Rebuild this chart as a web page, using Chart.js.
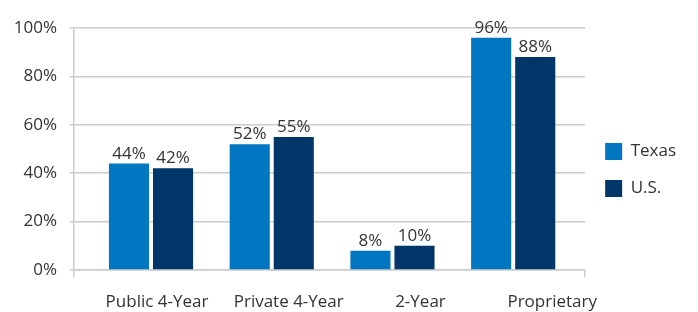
<!DOCTYPE html>
<html lang="en">
<head>
    <meta charset="UTF-8">
    <title>Texas vs U.S.</title>
    <script src="https://cdn.jsdelivr.net/npm/chart.js"></script>
    <style>
        html, body { margin: 0; padding: 0; background: #fff; }
        #wrap { width: 698px; height: 312px; }
    </style>
</head>
<body>
    <div id="wrap"><canvas id="myChart"></canvas></div>
    <script>
        // data
        var categories = ['Public 4-Year', 'Private 4-Year', '2-Year', 'Proprietary'];
        var texas = [44, 52, 8, 96];
        var us = [42, 55, 10, 88];
        var yTicks = [0, 20, 40, 60, 80, 100];

        var textColor = '#333333';
        var gridColor = '#cccccc';
        var font = { family: '"Open Sans", sans-serif', size: 17 };

        function points(values) {
            return values.map(function(v, i) { return { x: i, y: v }; });
        }

        // percent labels on top of the bars
        var valueLabels = {
            id: 'valueLabels',
            afterDatasetsDraw: function(chart) {
                var ctx = chart.ctx;
                ctx.save();
                ctx.font = '17px "Open Sans", sans-serif';
                ctx.fillStyle = textColor;
                ctx.textAlign = 'center';
                ctx.textBaseline = 'alphabetic';
                chart.data.datasets.forEach(function(ds, i) {
                    chart.getDatasetMeta(i).data.forEach(function(bar, j) {
                        ctx.fillText(ds.data[j].y + '%', bar.x, bar.y - 5);
                    });
                });
                ctx.restore();
            }
        };

        var ctx = document.getElementById('myChart').getContext('2d');
        var myChart = new Chart(ctx, {
            type: 'bar',
            data: {
                datasets: [{
                    label: 'Texas',
                    data: points(texas),
                    backgroundColor: '#0077c0',
                    categoryPercentage: 0.73,
                    barPercentage: 0.91
                }, {
                    label: 'U.S.',
                    data: points(us),
                    backgroundColor: '#003768',
                    categoryPercentage: 0.73,
                    barPercentage: 0.91
                }]
            },
            options: {
                responsive: true,
                maintainAspectRatio: false,
                animation: false,
                layout: { padding: { top: 28, right: 12, bottom: 0, left: 0 } },
                plugins: {
                    tooltip: { enabled: false },
                    legend: {
                        position: 'right',
                        labels: {
                            boxWidth: 17,
                            boxHeight: 17,
                            padding: 20,
                            color: textColor,
                            font: font
                        }
                    }
                },
                scales: {
                    x: {
                        type: 'linear',
                        position: 'bottom',
                        offset: false,
                        min: -0.638,
                        max: 3.596,
                        afterBuildTicks: function(axis) {
                            axis.ticks = [{ value: axis.min }, { value: axis.max }];
                        },
                        afterFit: function(axis) { axis.height = 7; },
                        grid: { offset: false, drawOnChartArea: false, tickLength: 7, color: gridColor, lineWidth: 1.5 },
                        border: { color: gridColor, width: 1.5 },
                        ticks: { display: false }
                    },
                    xl: {
                        type: 'linear',
                        position: 'bottom',
                        offset: false,
                        weight: 1,
                        min: -0.63,
                        max: 3.25,
                        afterBuildTicks: function(axis) {
                            axis.ticks = categories.map(function(c, i) { return { value: i }; });
                        },
                        afterFit: function(axis) { axis.height = 35; },
                        grid: { display: false, offset: false },
                        border: { display: false },
                        ticks: {
                            autoSkip: false,
                            maxRotation: 0,
                            padding: 7,
                            color: textColor,
                            font: font,
                            callback: function(v) { return categories[v]; }
                        }
                    },
                    y: {
                        min: 0,
                        max: 100,
                        afterBuildTicks: function(axis) {
                            axis.ticks = yTicks.map(function(v) { return { value: v }; });
                        },
                        afterFit: function(axis) { axis.width = 74; },
                        grid: { color: gridColor, tickLength: 4, lineWidth: 1.5 },
                        border: { color: gridColor, width: 1.5 },
                        ticks: {
                            padding: 13,
                            color: textColor,
                            font: font,
                            callback: function(v) { return v + '%'; }
                        }
                    }
                }
            },
            plugins: [valueLabels]
        });
    </script>
</body>
</html>
